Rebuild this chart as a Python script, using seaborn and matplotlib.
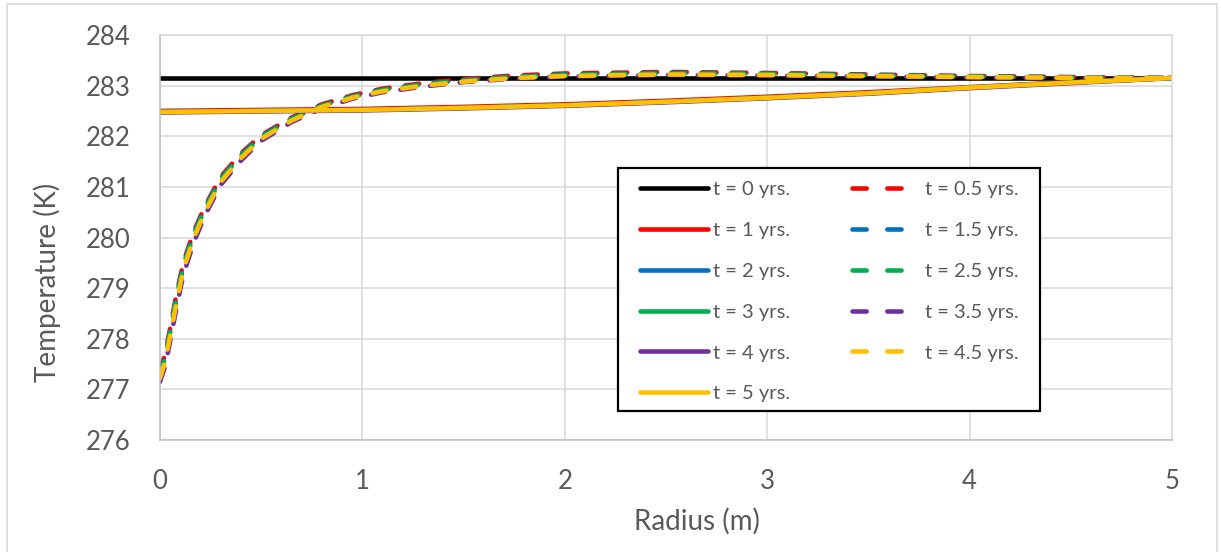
import matplotlib
matplotlib.use("Agg")
import matplotlib.pyplot as plt
from matplotlib.patches import Rectangle
import seaborn as sns
import pandas as pd

# ---- data -------------------------------------------------------------
# radial positions (m) for the transient (half-year) profiles
radius_fine = [0, 0.025, 0.05, 0.08, 0.115, 0.165, 0.22, 0.3, 0.4, 0.5, 0.65,
               0.8, 0.95, 1.1, 1.3, 1.5, 1.75, 2.0, 2.5, 3.0, 3.5, 4.0, 4.5, 5.0]
# radial positions (m) for the yearly profiles
radius_coarse = [0, 0.5, 1, 1.5, 2, 2.5, 3, 3.5, 4, 4.5, 5]
# initial condition
radius_init = [0, 5]

temp_t0 = [283.15, 283.15]
temp_t05 = [277.35, 277.70, 278.20, 278.85, 279.50, 280.10, 280.60, 281.20, 281.66, 282.02, 282.37,
            282.63, 282.81, 282.94, 283.05, 283.13, 283.20, 283.24, 283.27, 283.25, 283.22, 283.19, 283.17, 283.15]
temp_t1 = [282.50, 282.52, 282.54, 282.58, 282.63, 282.70, 282.78, 282.87, 282.97, 283.07, 283.15]
temp_t15 = [277.30, 277.65, 278.15, 278.80, 279.45, 280.06, 280.57, 281.17, 281.63, 282.00, 282.35,
            282.61, 282.79, 282.92, 283.03, 283.11, 283.18, 283.22, 283.25, 283.24, 283.21, 283.18, 283.165, 283.15]
temp_t2 = [282.48, 282.50, 282.52, 282.56, 282.61, 282.68, 282.76, 282.85, 282.96, 283.06, 283.15]
temp_t25 = [277.28, 277.62, 278.12, 278.76, 279.42, 280.03, 280.54, 281.15, 281.61, 281.98, 282.34,
            282.60, 282.78, 282.91, 283.02, 283.10, 283.17, 283.21, 283.24, 283.23, 283.20, 283.18, 283.16, 283.15]
temp_t3 = [282.48, 282.50, 282.52, 282.56, 282.61, 282.68, 282.76, 282.85, 282.96, 283.06, 283.15]
temp_t35 = [277.15, 277.45, 277.95, 278.58, 279.26, 279.88, 280.42, 281.04, 281.52, 281.91, 282.28,
            282.55, 282.74, 282.87, 282.98, 283.07, 283.14, 283.18, 283.21, 283.20, 283.18, 283.16, 283.15, 283.15]
temp_t4 = [282.47, 282.49, 282.51, 282.55, 282.60, 282.67, 282.75, 282.84, 282.95, 283.05, 283.15]
temp_t45 = [277.22, 277.55, 278.05, 278.68, 279.36, 279.97, 280.49, 281.10, 281.57, 281.95, 282.31,
            282.58, 282.76, 282.89, 283.00, 283.08, 283.15, 283.19, 283.22, 283.21, 283.19, 283.17, 283.155, 283.15]
temp_t5 = [282.48, 282.50, 282.52, 282.56, 282.61, 282.68, 282.76, 282.85, 282.96, 283.06, 283.15]

series_labels = ["t = 0 yrs.", "t = 0.5 yrs.", "t = 1 yrs.", "t = 1.5 yrs.", "t = 2 yrs.",
                 "t = 2.5 yrs.", "t = 3 yrs.", "t = 3.5 yrs.", "t = 4 yrs.", "t = 4.5 yrs.",
                 "t = 5 yrs."]
series_radius = [radius_init, radius_fine, radius_coarse, radius_fine, radius_coarse,
                 radius_fine, radius_coarse, radius_fine, radius_coarse, radius_fine,
                 radius_coarse]
series_temp = [temp_t0, temp_t05, temp_t1, temp_t15, temp_t2, temp_t25, temp_t3,
               temp_t35, temp_t4, temp_t45, temp_t5]
series_colors = ["#000000", "#FF0000", "#FF0000", "#0070C0", "#0070C0", "#00B050",
                 "#00B050", "#7030A0", "#7030A0", "#FFC000", "#FFC000"]
series_dashed = [False, True, False, True, False, True, False, True, False, True, False]

x_ticks = [0, 1, 2, 3, 4, 5]
y_ticks = [276, 277, 278, 279, 280, 281, 282, 283, 284]

# ---- long-form table ---------------------------------------------------
rows = []
for lab, rr, tt in zip(series_labels, series_radius, series_temp):
    for r, t in zip(rr, tt):
        rows.append({"Radius": r, "Temperature": t, "series": lab})
df = pd.DataFrame(rows)

# ---- style -------------------------------------------------------------
sns.set_theme(style="white")
plt.rcParams["font.family"] = ["Lato", "DejaVu Sans"]
plt.rcParams["lines.dash_capstyle"] = "round"
plt.rcParams["lines.solid_capstyle"] = "round"
plt.rcParams["lines.scale_dashes"] = True

W, H = 1221, 552
fig = plt.figure(figsize=(W / 100, H / 100), dpi=100)
fig.patch.set_facecolor("white")
ax = fig.add_axes([160 / W, 1 - 440 / H, (1172 - 160) / W, (440 - 35) / H])

palette = dict(zip(series_labels, series_colors))
dash_map = {lab: ((3.1, 3.4) if d else "") for lab, d in zip(series_labels, series_dashed)}

sns.lineplot(data=df, x="Radius", y="Temperature", hue="series", style="series",
             hue_order=series_labels, style_order=series_labels,
             palette=palette, dashes=dash_map, linewidth=3.3,
             estimator=None, sort=False, legend=False, ax=ax)

ax.set_xlim(0, 5)
ax.set_ylim(276, 284)
ax.set_xticks(x_ticks)
ax.set_yticks(y_ticks)
ax.set_xticklabels([str(v) for v in x_ticks])
ax.set_yticklabels([str(v) for v in y_ticks])

grid_col = "#D9D9D9"
text_col = "#595959"
ax.grid(True, color=grid_col, linewidth=1.1)
ax.set_axisbelow(True)
for sp in ax.spines.values():
    sp.set_visible(True)
    sp.set_color(grid_col)
    sp.set_linewidth(1.1)
ax.spines["left"].set_color("#BFBFBF")
ax.spines["bottom"].set_color("#BFBFBF")

ax.tick_params(axis="both", length=0, labelsize=18.5, labelcolor=text_col)
ax.tick_params(axis="y", pad=21)
ax.tick_params(axis="x", pad=21)

ax.set_xlabel("Radius (m)", fontsize=20, color=text_col)
ax.set_ylabel("Temperature (K)", fontsize=20, color=text_col)
ax.xaxis.set_label_coords((697 - 160) / (1172 - 160), -(521 - 440) / (440 - 35))
ax.xaxis.label.set_va("center")
ax.yaxis.set_label_coords(-(160 - 47) / (1172 - 160), (440 - 282) / (440 - 35))
ax.yaxis.label.set_va("center")

# ---- legend box (white panel with black border) ------------------------
ax.add_patch(Rectangle((618 / W, 1 - 411 / H), (1040 - 618) / W, (411 - 168) / H,
                       transform=fig.transFigure, facecolor="white",
                       edgecolor="black", linewidth=1.6, clip_on=False, zorder=4))

# integer years in the first column, half years in the second
lines = ax.get_lines()[:len(series_labels)]
handle_of = dict(zip(series_labels, lines))
legend_order = ["t = 0 yrs.", "t = 1 yrs.", "t = 2 yrs.", "t = 3 yrs.", "t = 4 yrs.",
                "t = 5 yrs.", "t = 0.5 yrs.", "t = 1.5 yrs.", "t = 2.5 yrs.",
                "t = 3.5 yrs.", "t = 4.5 yrs."]
leg = ax.legend([handle_of[l] for l in legend_order], legend_order, ncol=2,
                loc="upper left", bbox_to_anchor=(640 / W, 1 - 181 / H),
                bbox_transform=fig.transFigure, borderaxespad=0, borderpad=0,
                fontsize=14.5, handlelength=3.38, handletextpad=0.25,
                columnspacing=3.05, labelspacing=1.18, frameon=False)
leg.set_zorder(5)
dashed_lookup = dict(zip(series_labels, series_dashed))
for h, lab in zip(leg.legend_handles, legend_order):
    if dashed_lookup[lab]:
        h.set_dashes((3.1, 4.5))
for txt in leg.get_texts():
    txt.set_color(text_col)

# chart-area border
fig.add_artist(Rectangle((7 / W, -0.05), 1210 / W, 1 - 4 / H + 0.05,
                         transform=fig.transFigure, fill=False,
                         edgecolor=grid_col, linewidth=1.2))

fig.savefig("out.png", dpi=100)
